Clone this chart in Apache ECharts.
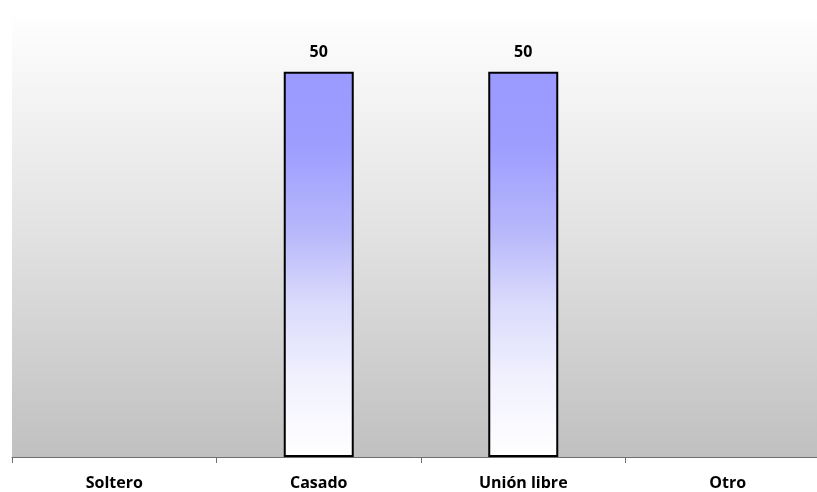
<!DOCTYPE html>
<html>
<head>
<meta charset="utf-8">
<script src="https://cdn.jsdelivr.net/npm/echarts@6/dist/echarts.min.js"></script>
<style>html,body{margin:0;padding:0;background:#fff}#c{width:817px;height:492px}</style>
</head>
<body>
<div id="c"></div>
<script>
var categories = ['Soltero', 'Casado', 'Unión libre', 'Otro'];
var values = [0, 50, 50, 0];
var yMax = 58;

var chart = echarts.init(document.getElementById('c'), null, {renderer: 'canvas'});
var barGrad = new echarts.graphic.LinearGradient(0, 0, 0, 1, [
  {offset: 0, color: '#9999ff'},
  {offset: 0.2, color: '#9e9eff'},
  {offset: 0.42, color: '#b8b8fb'},
  {offset: 0.6, color: '#dadafc'},
  {offset: 0.8, color: '#f1f1fe'},
  {offset: 1, color: '#ffffff'}
]);
chart.setOption({
  animation: false,
  grid: {
    left: 12, top: 10, bottom: 35, right: -13,
    containLabel: false, outerBoundsMode: 'none',
    show: true, borderWidth: 0,
    backgroundColor: new echarts.graphic.LinearGradient(0, 0, 0, 1, [
      {offset: 0, color: '#ffffff'},
      {offset: 0.5, color: '#e2e2e2'},
      {offset: 1, color: '#c0c0c0'}
    ])
  },
  xAxis: {
    type: 'category',
    data: categories,
    axisLine: {lineStyle: {color: '#6e6e6e', width: 1}},
    axisTick: {show: true, length: 6, lineStyle: {color: '#6e6e6e'}},
    axisLabel: {
      color: '#000', fontFamily: 'Open Sans', fontWeight: 'bold', fontSize: 16, margin: 18
    }
  },
  yAxis: {
    type: 'value', min: 0, max: yMax,
    show: false, splitLine: {show: false}
  },
  series: [{
    type: 'bar',
    barWidth: 70,
    data: values.map(function (v) {
      return v === 0 ? {value: v, itemStyle: {borderWidth: 0}} : v;
    }),
    itemStyle: {color: barGrad, borderColor: '#000', borderWidth: 2},
    label: {
      show: true, position: 'top', distance: 11,
      color: '#000', fontFamily: 'Open Sans', fontWeight: 'bold', fontSize: 16,
      formatter: function (p) { return p.value ? String(p.value) : ''; }
    }
  }]
});
</script>
</body>
</html>
